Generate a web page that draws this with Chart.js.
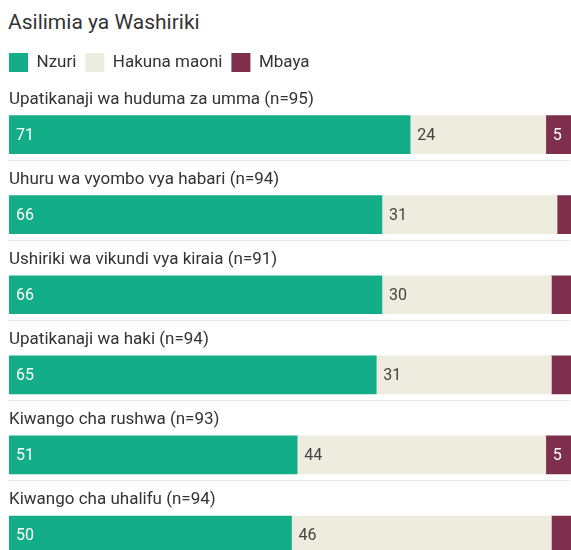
<!DOCTYPE html>
<html>
<head>
<meta charset="utf-8">
<script src="https://cdn.jsdelivr.net/npm/chart.js@4/dist/chart.umd.min.js"></script>
<style>
  html, body { margin: 0; padding: 0; background: #fff; overflow: hidden; }
  #title {
    height: 44px; line-height: 44px; padding-left: 8px;
    font-family: Roboto, 'Noto Sans', sans-serif; font-size: 21px; color: #333;
  }
  #wrap { width: 580px; height: 536px; }
</style>
</head>
<body>
<div id="title">Asilimia ya Washiriki</div>
<div id="wrap"><canvas id="chart"></canvas></div>
<script>
const categories = [
    'Upatikanaji wa huduma za umma (n=95)',
    'Uhuru wa vyombo vya habari (n=94)',
    'Ushiriki wa vikundi vya kiraia (n=91)',
    'Upatikanaji wa haki (n=94)',
    'Kiwango cha rushwa (n=93)',
    'Kiwango cha uhalifu (n=94)'
];
const seriesNames = ['Nzuri', 'Hakuna maoni', 'Mbaya'];
const nzuri = [71, 66, 66, 65, 51, 50];
const hakunaMaoni = [24, 31, 30, 31, 44, 46];
const mbaya = [5, 3, 4, 4, 5, 4];
const seriesColors = ['#13ad88', '#eeecdf', '#7e2f4b'];
const labelColors = ['#ffffff', '#444444', '#ffffff'];

const font = "Roboto, 'Noto Sans', sans-serif";

// category names above each bar, dotted rule below it
const rowLabels = {
    id: 'rowLabels',
    afterDatasetsDraw(chart) {
        const ctx = chart.ctx;
        const meta = chart.getDatasetMeta(0);
        const left = chart.chartArea.left;
        ctx.save();
        meta.data.forEach((bar, i) => {
            ctx.font = '17px ' + font;
            ctx.fillStyle = '#333333';
            ctx.textAlign = 'left';
            ctx.textBaseline = 'middle';
            ctx.fillText(categories[i], left, bar.y - 35);

            ctx.strokeStyle = '#d4d4d4';
            ctx.lineWidth = 1;
            ctx.setLineDash([1, 1]);
            ctx.beginPath();
            ctx.moveTo(left, Math.round(bar.y + 25) + 0.5);
            ctx.lineTo(chart.width, Math.round(bar.y + 25) + 0.5);
            ctx.stroke();
            ctx.setLineDash([]);
        });
        ctx.restore();
    }
};

// value labels inside the segments
const valueLabels = {
    id: 'valueLabels',
    afterDatasetsDraw(chart) {
        const ctx = chart.ctx;
        ctx.save();
        ctx.font = '16px ' + font;
        ctx.textAlign = 'left';
        ctx.textBaseline = 'middle';
        chart.data.datasets.forEach((ds, d) => {
            const meta = chart.getDatasetMeta(d);
            meta.data.forEach((bar, i) => {
                const v = ds.data[i];
                if (v < 5) return;
                ctx.fillStyle = labelColors[d];
                ctx.fillText(String(v), bar.base + 7, bar.y + 1);
            });
        });
        ctx.restore();
    }
};

new Chart(document.getElementById('chart'), {
    type: 'bar',
    data: {
        labels: categories,
        datasets: [
            { label: seriesNames[0], data: nzuri, backgroundColor: seriesColors[0] },
            { label: seriesNames[1], data: hakunaMaoni, backgroundColor: seriesColors[1] },
            { label: seriesNames[2], data: mbaya, backgroundColor: seriesColors[2] }
        ]
    },
    options: {
        indexAxis: 'y',
        responsive: true,
        maintainAspectRatio: false,
        animation: false,
        barThickness: 38,
        layout: { padding: { left: 0, right: 6, top: 0, bottom: 5 } },
        plugins: {
            legend: {
                display: true,
                align: 'start',
                labels: {
                    color: '#333333',
                    boxWidth: 19,
                    boxHeight: 19,
                    padding: 9,
                    font: { family: font, size: 17, lineHeight: 1.2 }
                }
            },
            tooltip: { enabled: false }
        },
        scales: {
            x: {
                stacked: true,
                min: 0,
                max: 100,
                position: 'top',
                display: true,
                grid: { display: false },
                border: { display: false },
                ticks: { display: false },
                afterFit: (scale) => { scale.height = 12.6; }
            },
            y: {
                stacked: true,
                display: true,
                grid: { display: false },
                border: { display: false },
                ticks: { display: false },
                afterFit: (scale) => { scale.width = 9; }
            }
        }
    },
    plugins: [rowLabels, valueLabels]
});
</script>
</body>
</html>
